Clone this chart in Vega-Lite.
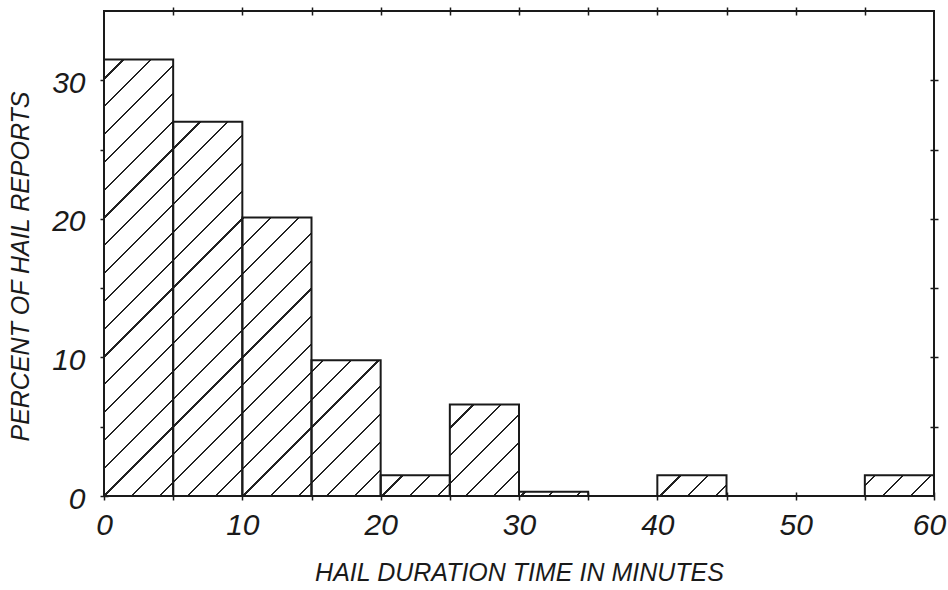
{
  "$schema": "https://vega.github.io/schema/vega-lite/v6.json",
  "width": 830,
  "height": 485,
  "autosize": "none",
  "padding": {"left": 104, "top": 11, "right": 14, "bottom": 94},
  "background": "white",
  "view": {"stroke": "#1a1a1a", "strokeWidth": 2},
  "config": {
    "axis": {"labelColor": "#1a1a1a", "titleColor": "#1a1a1a", "tickColor": "#1a1a1a", "domain": false, "grid": false}
  },
  "data": {
    "values": [
      {"start": 0, "end": 5, "pct": 31.5},
      {"start": 5, "end": 10, "pct": 27.0},
      {"start": 10, "end": 15, "pct": 20.1},
      {"start": 15, "end": 20, "pct": 9.8},
      {"start": 20, "end": 25, "pct": 1.5},
      {"start": 25, "end": 30, "pct": 6.6},
      {"start": 30, "end": 35, "pct": 0.3},
      {"start": 35, "end": 40, "pct": 0},
      {"start": 40, "end": 45, "pct": 1.5},
      {"start": 45, "end": 50, "pct": 0},
      {"start": 50, "end": 55, "pct": 0},
      {"start": 55, "end": 60, "pct": 1.5}
    ]
  },
  "resolve": {"axis": {"x": "independent", "y": "independent"}},
  "layer": [
    {
      "transform": [{"fold": ["start", "end"], "as": ["edge", "minutes"]}],
      "mark": {
        "type": "area",
        "opacity": 1,
        "fillOpacity": 1,
        "fill": {
          "gradient": "linear",
          "x1": 0, "y1": 0, "x2": 1.1953, "y2": 0.6286,
          "stops": [
            {"offset": 0, "color": "white"},
            {"offset": 0.0145, "color": "white"}, {"offset": 0.0145, "color": "#222"}, {"offset": 0.0163, "color": "#222"}, {"offset": 0.0163, "color": "white"},
            {"offset": 0.0365, "color": "white"}, {"offset": 0.0365, "color": "#222"}, {"offset": 0.0382, "color": "#222"}, {"offset": 0.0382, "color": "white"},
            {"offset": 0.0584, "color": "white"}, {"offset": 0.0584, "color": "#222"}, {"offset": 0.0602, "color": "#222"}, {"offset": 0.0602, "color": "white"},
            {"offset": 0.0804, "color": "white"}, {"offset": 0.0804, "color": "#222"}, {"offset": 0.0821, "color": "#222"}, {"offset": 0.0821, "color": "white"},
            {"offset": 0.1023, "color": "white"}, {"offset": 0.1023, "color": "#222"}, {"offset": 0.1041, "color": "#222"}, {"offset": 0.1041, "color": "white"},
            {"offset": 0.1243, "color": "white"}, {"offset": 0.1243, "color": "#222"}, {"offset": 0.1260, "color": "#222"}, {"offset": 0.1260, "color": "white"},
            {"offset": 0.1462, "color": "white"}, {"offset": 0.1462, "color": "#222"}, {"offset": 0.1480, "color": "#222"}, {"offset": 0.1480, "color": "white"},
            {"offset": 0.1682, "color": "white"}, {"offset": 0.1682, "color": "#222"}, {"offset": 0.1699, "color": "#222"}, {"offset": 0.1699, "color": "white"},
            {"offset": 0.1901, "color": "white"}, {"offset": 0.1901, "color": "#222"}, {"offset": 0.1919, "color": "#222"}, {"offset": 0.1919, "color": "white"},
            {"offset": 0.2121, "color": "white"}, {"offset": 0.2121, "color": "#222"}, {"offset": 0.2138, "color": "#222"}, {"offset": 0.2138, "color": "white"},
            {"offset": 0.2340, "color": "white"}, {"offset": 0.2340, "color": "#222"}, {"offset": 0.2358, "color": "#222"}, {"offset": 0.2358, "color": "white"},
            {"offset": 0.2560, "color": "white"}, {"offset": 0.2560, "color": "#222"}, {"offset": 0.2577, "color": "#222"}, {"offset": 0.2577, "color": "white"},
            {"offset": 0.2779, "color": "white"}, {"offset": 0.2779, "color": "#222"}, {"offset": 0.2797, "color": "#222"}, {"offset": 0.2797, "color": "white"},
            {"offset": 0.2999, "color": "white"}, {"offset": 0.2999, "color": "#222"}, {"offset": 0.3016, "color": "#222"}, {"offset": 0.3016, "color": "white"},
            {"offset": 0.3218, "color": "white"}, {"offset": 0.3218, "color": "#222"}, {"offset": 0.3236, "color": "#222"}, {"offset": 0.3236, "color": "white"},
            {"offset": 0.3438, "color": "white"}, {"offset": 0.3438, "color": "#222"}, {"offset": 0.3455, "color": "#222"}, {"offset": 0.3455, "color": "white"},
            {"offset": 0.3657, "color": "white"}, {"offset": 0.3657, "color": "#222"}, {"offset": 0.3675, "color": "#222"}, {"offset": 0.3675, "color": "white"},
            {"offset": 0.3877, "color": "white"}, {"offset": 0.3877, "color": "#222"}, {"offset": 0.3894, "color": "#222"}, {"offset": 0.3894, "color": "white"},
            {"offset": 0.4096, "color": "white"}, {"offset": 0.4096, "color": "#222"}, {"offset": 0.4114, "color": "#222"}, {"offset": 0.4114, "color": "white"},
            {"offset": 0.4316, "color": "white"}, {"offset": 0.4316, "color": "#222"}, {"offset": 0.4333, "color": "#222"}, {"offset": 0.4333, "color": "white"},
            {"offset": 0.4535, "color": "white"}, {"offset": 0.4535, "color": "#222"}, {"offset": 0.4553, "color": "#222"}, {"offset": 0.4553, "color": "white"},
            {"offset": 0.4755, "color": "white"}, {"offset": 0.4755, "color": "#222"}, {"offset": 0.4772, "color": "#222"}, {"offset": 0.4772, "color": "white"},
            {"offset": 0.4974, "color": "white"}, {"offset": 0.4974, "color": "#222"}, {"offset": 0.4992, "color": "#222"}, {"offset": 0.4992, "color": "white"},
            {"offset": 0.5194, "color": "white"}, {"offset": 0.5194, "color": "#222"}, {"offset": 0.5211, "color": "#222"}, {"offset": 0.5211, "color": "white"},
            {"offset": 0.5413, "color": "white"}, {"offset": 0.5413, "color": "#222"}, {"offset": 0.5431, "color": "#222"}, {"offset": 0.5431, "color": "white"},
            {"offset": 0.5633, "color": "white"}, {"offset": 0.5633, "color": "#222"}, {"offset": 0.5650, "color": "#222"}, {"offset": 0.5650, "color": "white"},
            {"offset": 0.5852, "color": "white"}, {"offset": 0.5852, "color": "#222"}, {"offset": 0.5870, "color": "#222"}, {"offset": 0.5870, "color": "white"},
            {"offset": 0.6072, "color": "white"}, {"offset": 0.6072, "color": "#222"}, {"offset": 0.6089, "color": "#222"}, {"offset": 0.6089, "color": "white"},
            {"offset": 0.6291, "color": "white"}, {"offset": 0.6291, "color": "#222"}, {"offset": 0.6309, "color": "#222"}, {"offset": 0.6309, "color": "white"},
            {"offset": 0.6511, "color": "white"}, {"offset": 0.6511, "color": "#222"}, {"offset": 0.6528, "color": "#222"}, {"offset": 0.6528, "color": "white"},
            {"offset": 0.6730, "color": "white"}, {"offset": 0.6730, "color": "#222"}, {"offset": 0.6748, "color": "#222"}, {"offset": 0.6748, "color": "white"},
            {"offset": 0.6950, "color": "white"}, {"offset": 0.6950, "color": "#222"}, {"offset": 0.6967, "color": "#222"}, {"offset": 0.6967, "color": "white"},
            {"offset": 0.7169, "color": "white"}, {"offset": 0.7169, "color": "#222"}, {"offset": 0.7187, "color": "#222"}, {"offset": 0.7187, "color": "white"},
            {"offset": 0.7389, "color": "white"}, {"offset": 0.7389, "color": "#222"}, {"offset": 0.7406, "color": "#222"}, {"offset": 0.7406, "color": "white"},
            {"offset": 0.7608, "color": "white"}, {"offset": 0.7608, "color": "#222"}, {"offset": 0.7626, "color": "#222"}, {"offset": 0.7626, "color": "white"},
            {"offset": 0.7828, "color": "white"}, {"offset": 0.7828, "color": "#222"}, {"offset": 0.7845, "color": "#222"}, {"offset": 0.7845, "color": "white"},
            {"offset": 0.8047, "color": "white"}, {"offset": 0.8047, "color": "#222"}, {"offset": 0.8065, "color": "#222"}, {"offset": 0.8065, "color": "white"},
            {"offset": 0.8267, "color": "white"}, {"offset": 0.8267, "color": "#222"}, {"offset": 0.8284, "color": "#222"}, {"offset": 0.8284, "color": "white"},
            {"offset": 0.8486, "color": "white"}, {"offset": 0.8486, "color": "#222"}, {"offset": 0.8504, "color": "#222"}, {"offset": 0.8504, "color": "white"},
            {"offset": 0.8706, "color": "white"}, {"offset": 0.8706, "color": "#222"}, {"offset": 0.8723, "color": "#222"}, {"offset": 0.8723, "color": "white"},
            {"offset": 0.8925, "color": "white"}, {"offset": 0.8925, "color": "#222"}, {"offset": 0.8943, "color": "#222"}, {"offset": 0.8943, "color": "white"},
            {"offset": 0.9145, "color": "white"}, {"offset": 0.9145, "color": "#222"}, {"offset": 0.9162, "color": "#222"}, {"offset": 0.9162, "color": "white"},
            {"offset": 0.9364, "color": "white"}, {"offset": 0.9364, "color": "#222"}, {"offset": 0.9382, "color": "#222"}, {"offset": 0.9382, "color": "white"},
            {"offset": 0.9584, "color": "white"}, {"offset": 0.9584, "color": "#222"}, {"offset": 0.9601, "color": "#222"}, {"offset": 0.9601, "color": "white"},
            {"offset": 0.9803, "color": "white"}, {"offset": 0.9803, "color": "#222"}, {"offset": 0.9821, "color": "#222"}, {"offset": 0.9821, "color": "white"},
            {"offset": 1, "color": "white"}
          ]
        }
      },
      "encoding": {
        "x": {
          "field": "minutes", "type": "quantitative",
          "scale": {"domain": [0, 60], "nice": false, "zero": true},
          "axis": {
            "orient": "bottom",
            "values": [0, 5, 10, 15, 20, 25, 30, 35, 40, 45, 50, 55, 60],
            "labelExpr": "datum.value % 10 === 0 ? datum.label : ''",
            "labelFlush": false,
            "labelOffset": {"condition": {"test": "datum.value === 60", "value": -5}, "value": 0},
            "offset": -4, "tickSize": 8, "tickWidth": 1.5,
            "labelFont": "Liberation Sans", "labelFontStyle": "italic", "labelFontSize": 30, "labelPadding": 10,
            "title": "HAIL DURATION TIME IN MINUTES",
            "titleFont": "Liberation Sans", "titleFontStyle": "italic", "titleFontWeight": "normal", "titleFontSize": 25, "titlePadding": 20
          }
        },
        "y": {
          "field": "pct", "type": "quantitative",
          "stack": null,
          "scale": {"domain": [0, 35], "nice": false, "zero": true},
          "axis": {
            "orient": "left",
            "values": [0, 5, 10, 15, 20, 25, 30],
            "labelExpr": "datum.value % 10 === 0 ? datum.label : ''",
            "labelFlush": false,
            "labelOffset": 3,
            "offset": -4, "tickSize": 8, "tickWidth": 1.5,
            "labelFont": "Liberation Sans", "labelFontStyle": "italic", "labelFontSize": 30, "labelPadding": 15,
            "title": "PERCENT OF HAIL REPORTS",
            "titleFont": "Liberation Sans", "titleFontStyle": "italic", "titleFontWeight": "normal", "titleFontSize": 25, "titlePadding": 18,
            "titleY": 255
          }
        },
        "order": {"value": null}
      }
    },
    {
      "mark": {"type": "rect", "fill": "transparent", "stroke": "#1a1a1a", "strokeWidth": 2},
      "encoding": {
        "x": {
          "field": "start", "type": "quantitative",
          "axis": {"orient": "top", "values": [5, 10, 15, 20, 25, 30, 35, 40, 45, 50, 55], "labels": false, "title": null, "offset": -4, "tickSize": 8, "tickWidth": 1.5}
        },
        "x2": {"field": "end"},
        "y": {
          "field": "pct", "type": "quantitative",
          "axis": {"orient": "right", "values": [5, 10, 15, 20, 25, 30], "labels": false, "title": null, "offset": -4, "tickSize": 8, "tickWidth": 1.5}
        },
        "y2": {"datum": 0}
      }
    }
  ]
}
